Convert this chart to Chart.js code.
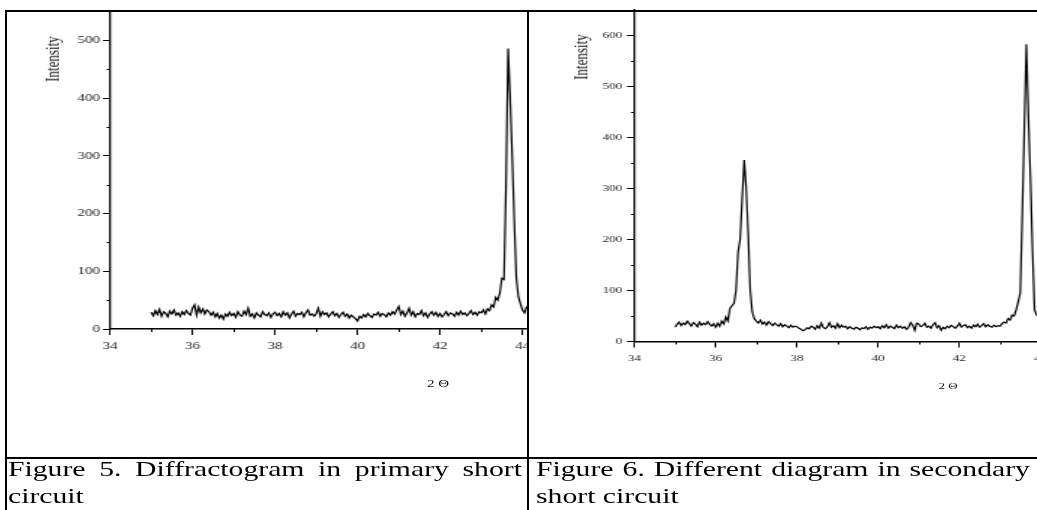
<!DOCTYPE html>
<html>
<head>
<meta charset="utf-8">
<script src="https://cdn.jsdelivr.net/npm/chart.js@4.4.1/dist/chart.umd.min.js"></script>
<style>
  html, body { margin: 0; padding: 0; background: #fff; }
  body { width: 1037px; height: 510px; overflow: hidden; position: relative; font-family: 'Liberation Serif', 'Times New Roman', serif; }
  .rule { position: absolute; background: #000; z-index: 5; }
  .cell { position: absolute; top: 0; height: 457px; overflow: hidden; }
  .stretch { position: absolute; left: 0; top: 0; transform-origin: 0 0; }
  .stretch canvas { display: block; }
  .lbl { position: absolute; white-space: nowrap; color: #111; line-height: 1; }
  .ylbl { transform: translate(-50%, -50%) rotate(-90deg); font-size: 13px; }
  .xlbl { transform: translate(-50%, -50%); }
  .caption { position: absolute; top: 455px; font-size: 22px; line-height: 27px; text-align: justify; transform-origin: 0 0; transform: scaleX(1.35); color: #000; }
</style>
</head>
<body>

<!-- table rules -->
<div class="rule" style="left:5px; top:10px; width:1032px; height:2px;"></div>
<div class="rule" style="left:5px; top:10px; width:2px; height:500px;"></div>
<div class="rule" style="left:527px; top:10px; width:2px; height:500px;"></div>
<div class="rule" style="left:5px; top:457px; width:1032px; height:2px;"></div>

<!-- figure 5 -->
<div class="cell" style="left:7px; width:520px;">
  <div class="stretch" style="transform: scaleX(1.5); width:360px; height:460px;">
    <canvas id="fig5" width="360" height="460"></canvas>
    <div class="lbl ylbl" style="left:29.8px; top:59px;">Intensity</div>
    <div class="lbl xlbl" style="left:287.3px; top:384px; font-size:10px;">2 Θ</div>
  </div>
</div>

<!-- figure 6 -->
<div class="cell" style="left:529px; width:508px;">
  <div class="stretch" style="transform: scaleX(1.45); width:372px; height:460px;">
    <canvas id="fig6" width="372" height="460"></canvas>
    <div class="lbl ylbl" style="left:36.3px; top:57px;">Intensity</div>
    <div class="lbl xlbl" style="left:289px; top:386px; font-size:9px;">2 Θ</div>
  </div>
</div>

<div class="caption" style="left:8px; width:380.7px;">Figure 5. Diffractogram in primary short circuit</div>
<div class="caption" style="left:536px; width:365.9px;">Figure 6. Different diagram in secondary short circuit</div>

<script>
// ── Data ─────────────────────────────────────────────────────────────────────
// scans start at 35.00° and step 0.05° (2Θ)
const thetaStart = 35;
const thetaStep  = 0.05;

// Figure 5 – primary short circuit
const primaryCounts = [
    29, 23, 32, 25, 34, 22, 30, 27, 21, 31, 26, 33, 24, 28, 22, 30, 25, 32, 27, 24,   // 35
    36, 42, 24, 38, 28, 35, 26, 33, 30, 24, 29, 21, 27, 19, 24, 17, 26, 22, 29, 23,   // 36
    27, 20, 30, 24, 22, 31, 25, 36, 22, 26, 19, 28, 24, 21, 30, 25, 23, 28, 20, 26,   // 37
    29, 23, 27, 21, 30, 24, 28, 19, 26, 31, 22, 27, 25, 29, 21, 28, 33, 24, 26, 22,   // 38
    27, 36, 22, 30, 25, 28, 21, 26, 30, 23, 27, 20, 25, 29, 22, 26, 19, 24, 21, 18,   // 39
    14, 22, 19, 25, 21, 27, 23, 20, 26, 24, 29, 22, 27, 25, 21, 28, 24, 30, 26, 33,   // 40
    39, 25, 31, 22, 28, 36, 24, 30, 21, 27, 25, 32, 23, 28, 20, 26, 30, 24, 29, 22,   // 41
    27, 21, 25, 30, 23, 28, 26, 22, 29, 24, 31, 25, 28, 23, 27, 32, 25, 29, 24, 30,   // 42
    28, 33, 26, 35, 32, 42, 38, 55, 50, 62, 88, 86, 250, 486, 400, 300, 190, 90, 56, 44, // 43
    33, 28, 38, 34, 37                                                                 // 44
];

// Figure 6 – secondary short circuit
const secondaryCounts = [
    28, 34, 38, 31, 36, 33, 40, 35, 30, 37, 34, 29, 38, 32, 36, 33, 39, 34, 30, 35,   // 35
    28, 36, 30, 40, 34, 48, 40, 65, 70, 75, 100, 175, 200, 280, 356, 300, 210, 100, 58, 45, // 36
    40, 36, 42, 34, 38, 32, 39, 35, 31, 36, 33, 30, 35, 29, 33, 30, 27, 32, 28, 30,   // 37
    29, 26, 24, 21, 23, 27, 25, 30, 28, 24, 31, 26, 36, 27, 25, 29, 37, 28, 31, 26,   // 38
    35, 27, 32, 28, 30, 25, 29, 26, 24, 28, 26, 23, 27, 25, 29, 24, 28, 26, 30, 27,   // 39
    29, 25, 31, 27, 33, 26, 30, 28, 25, 32, 27, 30, 26, 29, 24, 28, 37, 32, 22, 36,   // 40
    34, 29, 31, 36, 28, 30, 26, 33, 37, 27, 31, 22, 28, 25, 30, 27, 32, 29, 26, 30,   // 41
    36, 28, 31, 33, 27, 30, 26, 32, 29, 34, 28, 31, 35, 29, 33, 30, 28, 32, 29, 31,   // 42
    30, 35, 38, 36, 45, 42, 52, 50, 62, 78, 95, 250, 420, 583, 440, 320, 180, 62, 52, 50, // 43
    48, 45, 44                                                                         // 44
];

// axis ticks
const xTickStep   = 2;
const xMinorTicks = [35, 37, 39, 41, 43];
const yTickStep   = 100;
const yMinorFig5  = [50, 150, 250, 350, 450];
const yMinorFig6  = [50, 150, 250, 350, 450, 550];

// ── Helpers ──────────────────────────────────────────────────────────────────
function toPoints(counts) {
    return counts.map((c, i) => ({ x: +(thetaStart + i * thetaStep).toFixed(2), y: c }));
}

// keep only the round, labeled ticks (drop the 550 / 650 / 44.3 bounds)
const onlyStep = step => s => { s.ticks = s.ticks.filter(t => Math.abs(t.value / step - Math.round(t.value / step)) < 1e-6); };

// short unlabeled ticks between the labeled ones
const minorTicks = {
    id: 'minorTicks',
    afterDraw(chart, args, opts) {
        const { ctx, chartArea, scales: { x, y } } = chart;
        ctx.save();
        ctx.strokeStyle = '#000';
        ctx.lineWidth = 1;
        ctx.beginPath();
        opts.x.forEach(v => {
            const px = Math.round(x.getPixelForValue(v)) + 0.5;
            ctx.moveTo(px, chartArea.bottom);
            ctx.lineTo(px, chartArea.bottom + opts.xLen);
        });
        opts.y.forEach(v => {
            const py = Math.round(y.getPixelForValue(v)) + 0.5;
            ctx.moveTo(chartArea.left, py);
            ctx.lineTo(chartArea.left - opts.yLen, py);
        });
        ctx.stroke();
        ctx.restore();
    }
};

function buildChart(id, c) {
    const tickFont = { family: 'Liberation Serif', size: c.font };
    return new Chart(document.getElementById(id), {
        type: 'line',
        data: {
            datasets: [{
                data: toPoints(c.counts),
                borderColor: '#000',
                borderWidth: 1.2,
                pointRadius: 0,
                tension: 0,
                fill: false,
            }]
        },
        options: {
            responsive: false,
            animation: false,
            events: [],
            layout: { padding: { left: 0, top: c.top, right: c.right, bottom: 0 } },
            plugins: {
                legend: { display: false },
                tooltip: { enabled: false },
                minorTicks: { x: xMinorTicks, y: c.yMinor, xLen: 3, yLen: c.yMinorLen },
            },
            scales: {
                x: {
                    type: 'linear', min: 34, max: 44.3, bounds: 'data',
                    afterBuildTicks: onlyStep(xTickStep),
                    afterFit: s => { s.height = c.xAxisH; },
                    border: { display: true, color: '#000', width: 1.4 },
                    grid: { drawOnChartArea: false, drawTicks: true, tickLength: 6, tickColor: '#000', tickWidth: 1 },
                    ticks: { stepSize: xTickStep, includeBounds: false, autoSkip: false, maxRotation: 0,
                             padding: c.xPad, color: '#222', font: tickFont },
                },
                y: {
                    type: 'linear', min: 0, max: c.yMax, bounds: 'data',
                    afterBuildTicks: onlyStep(yTickStep),
                    afterFit: s => { s.width = c.yAxisW; },
                    border: { display: true, color: '#000', width: 1.3 },
                    grid: { drawOnChartArea: false, drawTicks: true, tickLength: c.yTickLen, tickColor: '#000', tickWidth: 1 },
                    ticks: { stepSize: yTickStep, includeBounds: false, autoSkip: false,
                             padding: c.yPad, color: '#222', font: tickFont },
                }
            }
        },
        plugins: [minorTicks]
    });
}

buildChart('fig5', {
    counts: primaryCounts, yMax: 550, yMinor: yMinorFig5,
    font: 10, top: 11.65, right: 8.1, xAxisH: 131, yAxisW: 68.67,
    yTickLen: 4.67, yMinorLen: 2.3, yPad: 2, xPad: 5,
});

buildChart('fig6', {
    counts: secondaryCounts, yMax: 650, yMinor: yMinorFig6,
    font: 9, top: 10, right: 10.8, xAxisH: 118.5, yAxisW: 72.76,
    yTickLen: 5.2, yMinorLen: 2.4, yPad: 3.4, xPad: 5.5,
});
</script>
</body>
</html>
